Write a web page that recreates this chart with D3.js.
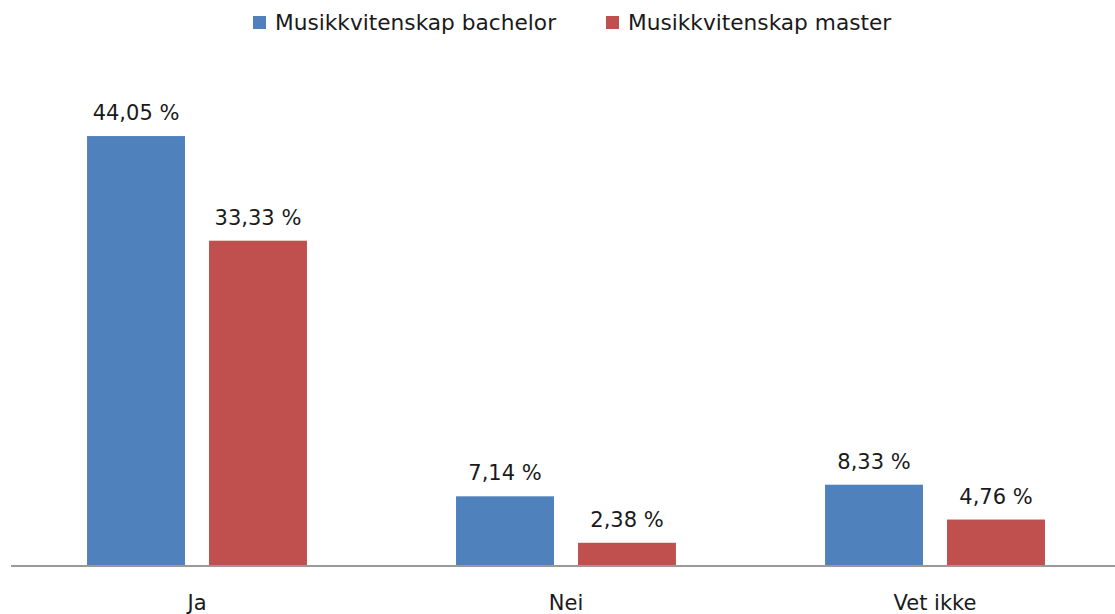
<!DOCTYPE html>
<html>
<head>
<meta charset="utf-8">
<script src="https://cdn.jsdelivr.net/npm/d3@7"></script>
<style>
  html, body { margin: 0; padding: 0; background: #fff; }
  svg { display: block; }
  text { font-family: "DejaVu Sans", sans-serif; fill: #1a1a1a; }
</style>
</head>
<body>
<svg id="chart" width="1115" height="614"></svg>
<script>
const categories = ["Ja", "Nei", "Vet ikke"];
const seriesNames = ["Musikkvitenskap bachelor", "Musikkvitenskap master"];
const bachelorValues = [44.05, 7.14, 8.33];
const masterValues = [33.33, 2.38, 4.76];
const seriesColors = ["#4F81BD", "#C0504D"];
const valueLabelFormat = v => v.toFixed(2).replace(".", ",") + " %";

const seriesValues = [bachelorValues, masterValues];
const svg = d3.select("#chart");

const baseY = 566;
const x0 = d3.scaleBand().domain(categories).range([12.5, 1119.5])
  .paddingInner(0.404).paddingOuter(0.202);
const x1 = d3.scaleBand().domain(seriesNames).range([0, x0.bandwidth()])
  .paddingInner(0.197).paddingOuter(0);
const y = d3.scaleLinear().domain([0, 50]).range([baseY, 78]);

const rows = [];
categories.forEach((c, i) => {
  seriesNames.forEach((s, j) => rows.push({cat: c, ser: s, idx: j, v: seriesValues[j][i]}));
});

const g = svg.append("g");
g.selectAll("rect.bar").data(rows).join("rect")
  .attr("class", "bar")
  .attr("x", d => x0(d.cat) + x1(d.ser))
  .attr("y", d => y(d.v))
  .attr("width", x1.bandwidth())
  .attr("height", d => y(0) - y(d.v))
  .attr("fill", d => seriesColors[d.idx]);

g.selectAll("text.val").data(rows).join("text")
  .attr("class", "val")
  .attr("x", d => x0(d.cat) + x1(d.ser) + x1.bandwidth() / 2)
  .attr("y", d => y(d.v) - 16)
  .attr("text-anchor", "middle")
  .style("font-size", "21px")
  .text(d => valueLabelFormat(d.v));

// axis
const axis = svg.append("g").attr("transform", `translate(0,${baseY})`)
  .call(d3.axisBottom(x0).tickSize(0).tickSizeOuter(0));
axis.select(".domain").attr("stroke", "#9a9a9a").attr("stroke-width", 2)
  .attr("d", "M11,0H1115");
axis.selectAll(".tick text")
  .attr("y", 44).attr("dy", 0)
  .style("font-size", "21px")
  .style("font-family", "'DejaVu Sans', sans-serif")
  .attr("fill", "#1a1a1a");

// legend
const legendX = [253, 606];
const legend = svg.append("g");
seriesNames.forEach((s, i) => {
  legend.append("rect").attr("x", legendX[i]).attr("y", 16)
    .attr("width", 13).attr("height", 13).attr("fill", seriesColors[i]);
  legend.append("text").attr("x", legendX[i] + 22).attr("y", 30)
    .style("font-size", "21.7px").text(s);
});
</script>
</body>
</html>
